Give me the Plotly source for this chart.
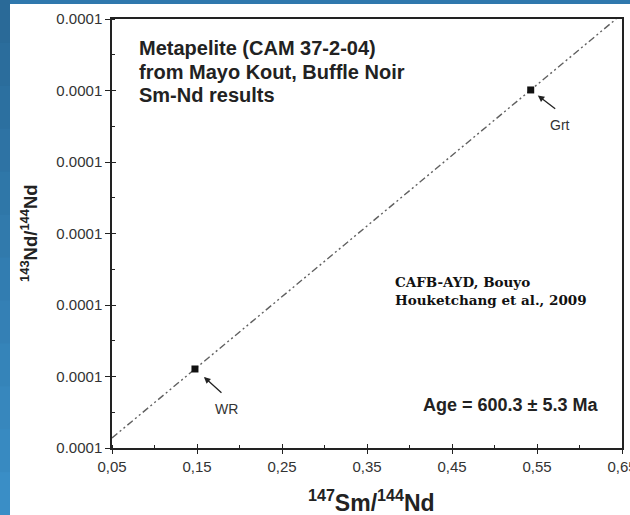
import plotly.graph_objects as go

# ---- data ----
samples = ["WR", "Grt"]
sm_nd = [0.1476, 0.5426]          # 147Sm/144Nd
nd_nd = [0.511642, 0.513203]      # 143Nd/144Nd
x_ticks = [0.05, 0.15, 0.25, 0.35, 0.45, 0.55, 0.65]
x_ticktext = ["0,05", "0,15", "0,25", "0,35", "0,45", "0,55", "0,65"]
y_ticks = [0.5112, 0.5116, 0.5120, 0.5124, 0.5128, 0.5132, 0.5136]
y_ticktext = ["0.0001"] * len(y_ticks)

X_RANGE = [x_ticks[0], x_ticks[-1]]
Y_RANGE = [y_ticks[0], y_ticks[-1]]

# isochron through the two points, clipped to the frame
slope = (nd_nd[1] - nd_nd[0]) / (sm_nd[1] - sm_nd[0])
icpt = nd_nd[0] - slope * sm_nd[0]
x0 = X_RANGE[0]
x1 = min(X_RANGE[1], (Y_RANGE[1] - icpt) / slope)
line_x = [x0, x1]
line_y = [icpt + slope * x0, icpt + slope * x1]

fig = go.Figure()
fig.add_trace(go.Scatter(x=line_x, y=line_y, mode="lines",
                         line=dict(color="#606060", width=1.4,
                                   dash="7px,3px,2px,3px,2px,3px"),
                         hoverinfo="skip", showlegend=False))
fig.add_trace(go.Scatter(x=sm_nd, y=nd_nd, mode="markers",
                         marker=dict(symbol="square", size=7, color="#111111"),
                         showlegend=False, text=samples))
# invisible trace for overlay axis (inner half of the crossing major ticks)
fig.add_trace(go.Scatter(x=[None], y=[None], xaxis="x2", yaxis="y2",
                         showlegend=False))

axis_font = dict(family="Liberation Sans, Arial", size=15, color="#333333")

fig.update_layout(
    width=630, height=515,
    margin=dict(l=112, r=8, t=19, b=67, autoexpand=False),
    paper_bgcolor="#2f78ad",
    plot_bgcolor="white",
    xaxis=dict(range=X_RANGE, tickvals=x_ticks, ticktext=x_ticktext,
               ticks="outside", ticklen=4, tickwidth=1.3, tickcolor="#222",
               showline=True, linecolor="#222", linewidth=1.5, mirror=True,
               showgrid=False, zeroline=False, tickfont=axis_font,
               ticklabeloverflow="allow", automargin=False,
               minor=dict(dtick=0.05, tick0=0.05, ticks="inside", ticklen=3,
                          tickcolor="#222", tickwidth=1.1)),
    yaxis=dict(range=Y_RANGE, tickvals=y_ticks, ticktext=y_ticktext,
               ticks="outside", ticklen=5, tickwidth=1.3, tickcolor="#222",
               showline=True, linecolor="#222", linewidth=1.5, mirror=True,
               showgrid=False, zeroline=False, tickfont=axis_font,
               ticklabeloverflow="allow", automargin=False,
               minor=dict(dtick=0.0002, tick0=0.5112, ticks="inside", ticklen=3,
                          tickcolor="#222", tickwidth=1.1)),
    xaxis2=dict(range=X_RANGE, overlaying="x", tickvals=x_ticks, ticks="inside",
                ticklen=4, tickwidth=1.3, tickcolor="#222", showticklabels=False,
                showgrid=False, zeroline=False, side="bottom", anchor="y2",
                automargin=False),
    yaxis2=dict(range=Y_RANGE, overlaying="y", tickvals=y_ticks, ticks="inside",
                ticklen=4, tickwidth=1.3, tickcolor="#222", showticklabels=False,
                showgrid=False, zeroline=False, side="left", anchor="x2",
                automargin=False),
)

# background: white page with blue strips (left gradient, top)
W, H = 630, 515
pw, ph = 630 - 112 - 8, 515 - 19 - 67
def px(x):
    return (x - 112) / pw
def py(y):
    return (515 - 67 - y) / ph

shapes = [dict(type="rect", xref="paper", yref="paper",
               x0=px(10), x1=px(W + 2), y0=py(H + 2), y1=py(4),
               fillcolor="white", line=dict(width=0), layer="below")]
n = 12
c_top = (42, 106, 152)
c_bot = (58, 142, 198)
for i in range(n):
    t = i / (n - 1)
    c = tuple(int(c_top[k] + (c_bot[k] - c_top[k]) * t) for k in range(3))
    shapes.append(dict(type="rect", xref="paper", yref="paper",
                       x0=px(-2), x1=px(10),
                       y0=py(H * (i + 1) / n + 1), y1=py(H * i / n),
                       fillcolor="rgb(%d,%d,%d)" % c, line=dict(width=0),
                       layer="below"))
fig.update_layout(shapes=shapes)

ann = []
bold = dict(family="Liberation Sans, Arial", size=20, color="#222222")
for i, line in enumerate(["Metapelite (CAM 37-2-04)",
                          "from Mayo Kout, Buffle Noir",
                          "Sm-Nd results"]):
    ann.append(dict(text="<b>%s</b>" % line, xref="paper", yref="paper",
                    x=px(137), y=py(48 + 23.5 * i), xanchor="left",
                    yanchor="middle", showarrow=False, font=bold))
serif = dict(family="DejaVu Serif", size=13.5, color="#111111")
for i, line in enumerate(["CAFB-AYD, Bouyo", "Houketchang et al., 2009"]):
    ann.append(dict(text="<b>%s</b>" % line, xref="paper", yref="paper",
                    x=px(393), y=py(282 + 18 * i), xanchor="left",
                    yanchor="middle", showarrow=False, font=serif))
ann.append(dict(text="<b>Age = 600.3 ± 5.3 Ma</b>", xref="paper", yref="paper",
                x=px(421), y=py(405), xanchor="left", yanchor="middle",
                showarrow=False,
                font=dict(family="Liberation Sans, Arial", size=18,
                          color="#222222")))
# sample labels with arrows
lab_font = dict(family="Liberation Sans, Arial", size=14, color="#333333")
ann.append(dict(text="WR", x=sm_nd[0], y=nd_nd[0], xref="x", yref="y",
                showarrow=False, font=lab_font, xshift=32, yshift=-40))
ann.append(dict(text="", x=sm_nd[0], y=nd_nd[0], xref="x", yref="y",
                showarrow=True, arrowhead=2, arrowsize=1, arrowwidth=1.3,
                arrowcolor="#222", ax=28, ay=25, standoff=12))
ann.append(dict(text="Grt", x=sm_nd[1], y=nd_nd[1], xref="x", yref="y",
                showarrow=False, font=lab_font, xshift=29, yshift=-35))
ann.append(dict(text="", x=sm_nd[1], y=nd_nd[1], xref="x", yref="y",
                showarrow=True, arrowhead=2, arrowsize=1, arrowwidth=1.3,
                arrowcolor="#222", ax=26, ay=20, standoff=9))
# axis titles
ann.append(dict(text="<b><sup>147</sup>Sm/<sup>144</sup>Nd</b>", xref="paper",
                yref="paper", x=px(371), y=py(501), xanchor="center",
                yanchor="middle", showarrow=False,
                font=dict(family="Liberation Sans, Arial", size=23,
                          color="#222222")))
ann.append(dict(text="<b><sup>143</sup>Nd/<sup>144</sup>Nd</b>", xref="paper",
                yref="paper", x=px(29), y=py(233), xanchor="center",
                yanchor="middle", showarrow=False, textangle=-90,
                font=dict(family="Liberation Sans, Arial", size=18.5,
                          color="#222222")))
fig.update_layout(annotations=ann)

fig.write_html("out.html", config={"displayModeBar": False},
               post_script="document.body.style.margin='0px';"
                           "document.body.style.overflow='hidden';")
